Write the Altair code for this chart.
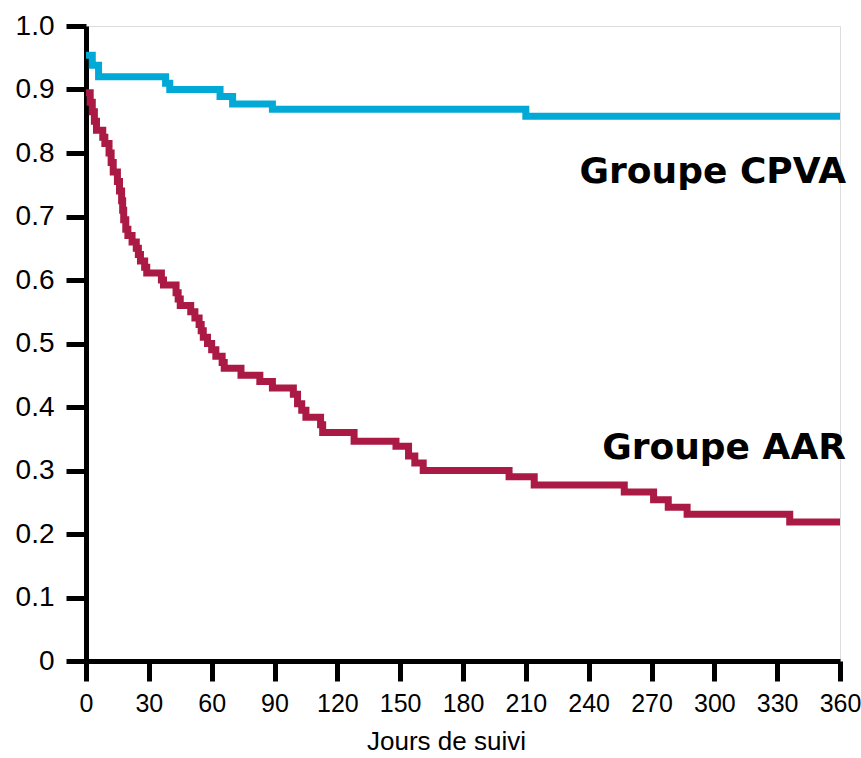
import altair as alt
import pandas as pd

# Kaplan-Meier style step data
cpva_days = [0, 3, 6, 38, 40, 64, 70, 89, 210, 360]
cpva_surv = [0.954, 0.938, 0.92, 0.91, 0.90, 0.889, 0.877, 0.869, 0.858, 0.858]

aar_days = [0, 2, 3, 4, 5, 8, 9, 11, 12, 13, 15, 16, 17, 17.5, 18, 19, 20, 22, 24,
            25, 26, 28, 29, 36, 37, 43, 44, 45, 50, 52, 54, 55, 56, 58, 60, 62,
            65, 66, 74, 83, 89, 99, 101, 103, 105, 112, 113, 128, 148, 154, 157,
            161, 202, 214, 257, 271, 278, 287, 336, 360]
aar_surv = [0.895, 0.88, 0.865, 0.85, 0.836, 0.825, 0.815, 0.80, 0.785, 0.77,
            0.755, 0.74, 0.725, 0.71, 0.695, 0.68, 0.67, 0.66, 0.65, 0.64, 0.63,
            0.62, 0.611, 0.60, 0.592, 0.58, 0.57, 0.56, 0.55, 0.54, 0.53, 0.52,
            0.51, 0.50, 0.49, 0.48, 0.47, 0.461, 0.45, 0.44, 0.43, 0.42, 0.405,
            0.395, 0.384, 0.372, 0.36, 0.346, 0.338, 0.323, 0.312, 0.30, 0.29,
            0.277, 0.266, 0.254, 0.242, 0.231, 0.219, 0.219]

groups = ["Groupe CPVA", "Groupe AAR"]
colors = ["#00A9D6", "#AA1A44"]
label_y = [0.752, 0.318]

x_ticks = list(range(0, 361, 30))
y_ticks = [0, 0.1, 0.2, 0.3, 0.4, 0.5, 0.6, 0.7, 0.8, 0.9, 1.0]

df = pd.concat([
    pd.DataFrame({"day": cpva_days, "surv": cpva_surv, "group": groups[0]}),
    pd.DataFrame({"day": aar_days, "surv": aar_surv, "group": groups[1]}),
])
labels = pd.DataFrame({"day": [360, 360], "surv": label_y, "group": groups})

sans = "Liberation Sans"

x = alt.X("day:Q", scale=alt.Scale(domain=[0, 360], nice=False, zero=False),
          axis=alt.Axis(values=x_ticks, title="Jours de suivi", grid=False,
                        domainColor="black", domainWidth=5, tickColor="black",
                        tickWidth=5, tickSize=20, labelFont=sans,
                        labelFontSize=25, labelColor="black", labelPadding=10,
                        labelFlush=False, labelOverlap=False,
                        titleFont=sans, titleFontSize=26,
                        titleFontWeight="normal", titleColor="black",
                        titlePadding=12, titleX=360))
y = alt.Y("surv:Q", scale=alt.Scale(domain=[0, 1], nice=False),
          axis=alt.Axis(values=y_ticks, title=None, grid=False,
                        labelExpr="datum.value == 0 ? '0' : format(datum.value, '.1f')",
                        domainColor="black", domainWidth=5, tickColor="black",
                        tickWidth=5, tickSize=20, labelFont=sans,
                        labelFontSize=28, labelColor="black", labelPadding=12,
                        labelFlush=False, labelOverlap=False))

color = alt.Color("group:N", scale=alt.Scale(domain=groups, range=colors), legend=None)

lines = alt.Chart(df).mark_line(interpolate="step-after", strokeWidth=7,
                                strokeCap="butt", strokeJoin="miter").encode(
    x=x, y=y, color=color)

texts = alt.Chart(labels).mark_text(align="right", baseline="alphabetic",
                                    font="DejaVu Sans", fontSize=36,
                                    fontWeight="bold", color="black", dx=6).encode(
    x=alt.X("day:Q"), y=alt.Y("surv:Q"), text="group:N")

chart = alt.layer(lines, texts).properties(
    width=754, height=635,
    autosize=alt.AutoSizeParams(type="none"),
    padding={"left": 86, "top": 26, "right": 21, "bottom": 97},
).configure_view(stroke=None).configure(background="white")

chart.save("out.html", embed_options={"renderer": "svg", "actions": False})
